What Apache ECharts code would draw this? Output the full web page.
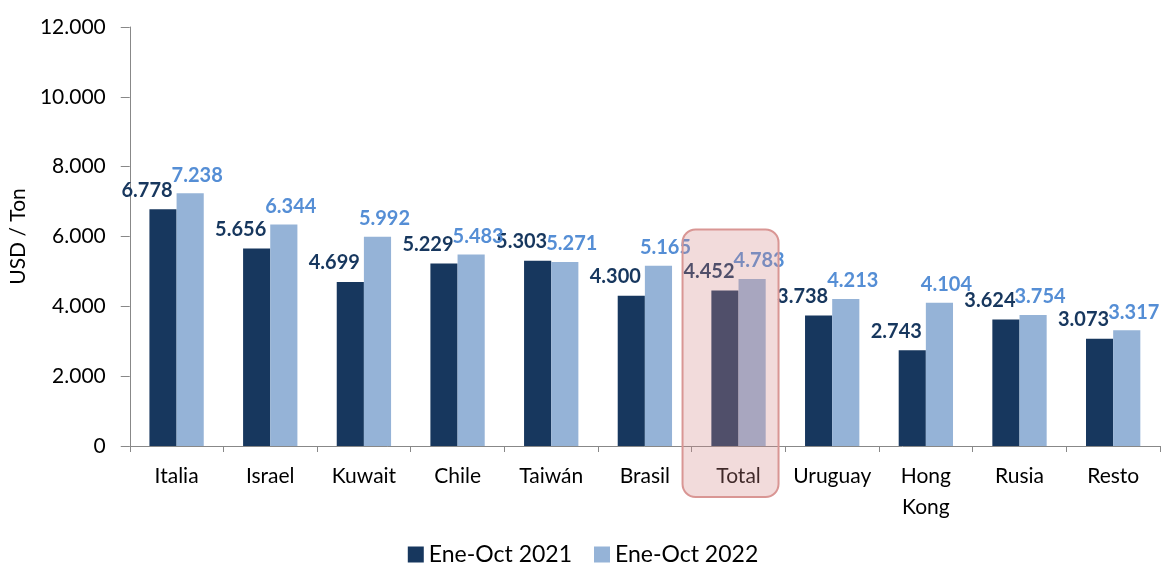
<!DOCTYPE html>
<html>
<head>
<meta charset="utf-8">
<script src="https://cdn.jsdelivr.net/npm/echarts@6/dist/echarts.min.js"></script>
<style>html,body{margin:0;padding:0;background:#fff}#c{width:1166px;height:563px}</style>
</head>
<body>
<div id="c"></div>
<script>
const categories = ['Italia','Israel','Kuwait','Chile','Taiwán','Brasil','Total','Uruguay','Hong Kong','Rusia','Resto'];
const s2021 = [6778,5656,4699,5229,5303,4300,4452,3738,2743,3624,3073];
const s2022 = [7238,6344,5992,5483,5271,5165,4783,4213,4104,3754,3317];
const seriesNames = ['Ene-Oct 2021','Ene-Oct 2022'];
const yTicks = [0,2000,4000,6000,8000,10000,12000];
const highlightCategory = 'Total';

const FONT = 'Lato';
const fmt = v => String(v).replace(/\B(?=(\d{3})+(?!\d))/g, '.');

const chart = echarts.init(document.getElementById('c'));
chart.setOption({
  animation: false,
  textStyle: { fontFamily: FONT },
  grid: { left: 128, right: 6, top: 27, bottom: 117, containLabel: false },
  legend: {
    data: seriesNames, top: 538, left: 'center', icon: 'rect',
    itemWidth: 16, itemHeight: 16, itemGap: 22,
    textStyle: { fontFamily: FONT, fontSize: 23, color: '#000' }
  },
  xAxis: {
    type: 'category', data: categories,
    axisLine: { lineStyle: { color: '#888', width: 1 } },
    axisTick: { show: true, length: 6, lineStyle: { color: '#888' } },
    axisLabel: {
      fontFamily: FONT, fontSize: 21, color: '#000', margin: 15, lineHeight: 31,
      interval: 0, formatter: v => v.replace(' ', '\n')
    }
  },
  yAxis: {
    type: 'value', min: yTicks[0], max: yTicks[yTicks.length-1], interval: 2000,
    name: 'USD / Ton', nameLocation: 'middle', nameGap: 98,
    nameTextStyle: { fontFamily: FONT, fontSize: 21, color: '#000' },
    splitLine: { show: false },
    axisLine: { show: true, lineStyle: { color: '#888', width: 1 } },
    axisTick: { show: true, length: 9, lineStyle: { color: '#888' } },
    axisLabel: { fontFamily: FONT, fontSize: 21, color: '#000', margin: 24, formatter: v => fmt(v) }
  },
  series: [
    {
      name: seriesNames[0], type: 'bar', data: s2021, barGap: '0%', barCategoryGap: '42%',
      itemStyle: { color: '#17375E' },
      label: { show: true, position: 'top', offset: [-16, -4], formatter: p => fmt(p.value),
        fontFamily: FONT, fontWeight: 'bold', fontSize: 20, color: '#17375E' }
    },
    {
      name: seriesNames[1], type: 'bar', data: s2022,
      itemStyle: { color: '#95B3D7' },
      label: { show: true, position: 'top', offset: [7, -3], formatter: p => fmt(p.value),
        fontFamily: FONT, fontWeight: 'bold', fontSize: 20, color: '#558ED5' }
    }
  ]
});

const cx = chart.convertToPixel({ xAxisIndex: 0 }, highlightCategory);
const yTop = chart.convertToPixel({ yAxisIndex: 0 }, 6200);
const y0 = chart.convertToPixel({ yAxisIndex: 0 }, 0);
chart.setOption({
  graphic: [{
    type: 'rect', z: 100,
    shape: { x: cx - 56, y: yTop, width: 96, height: (y0 + 51) - yTop, r: 13 },
    style: { fill: 'rgba(211,137,137,0.3)', stroke: '#D99694', lineWidth: 2 }
  }]
});
</script>
</body>
</html>
